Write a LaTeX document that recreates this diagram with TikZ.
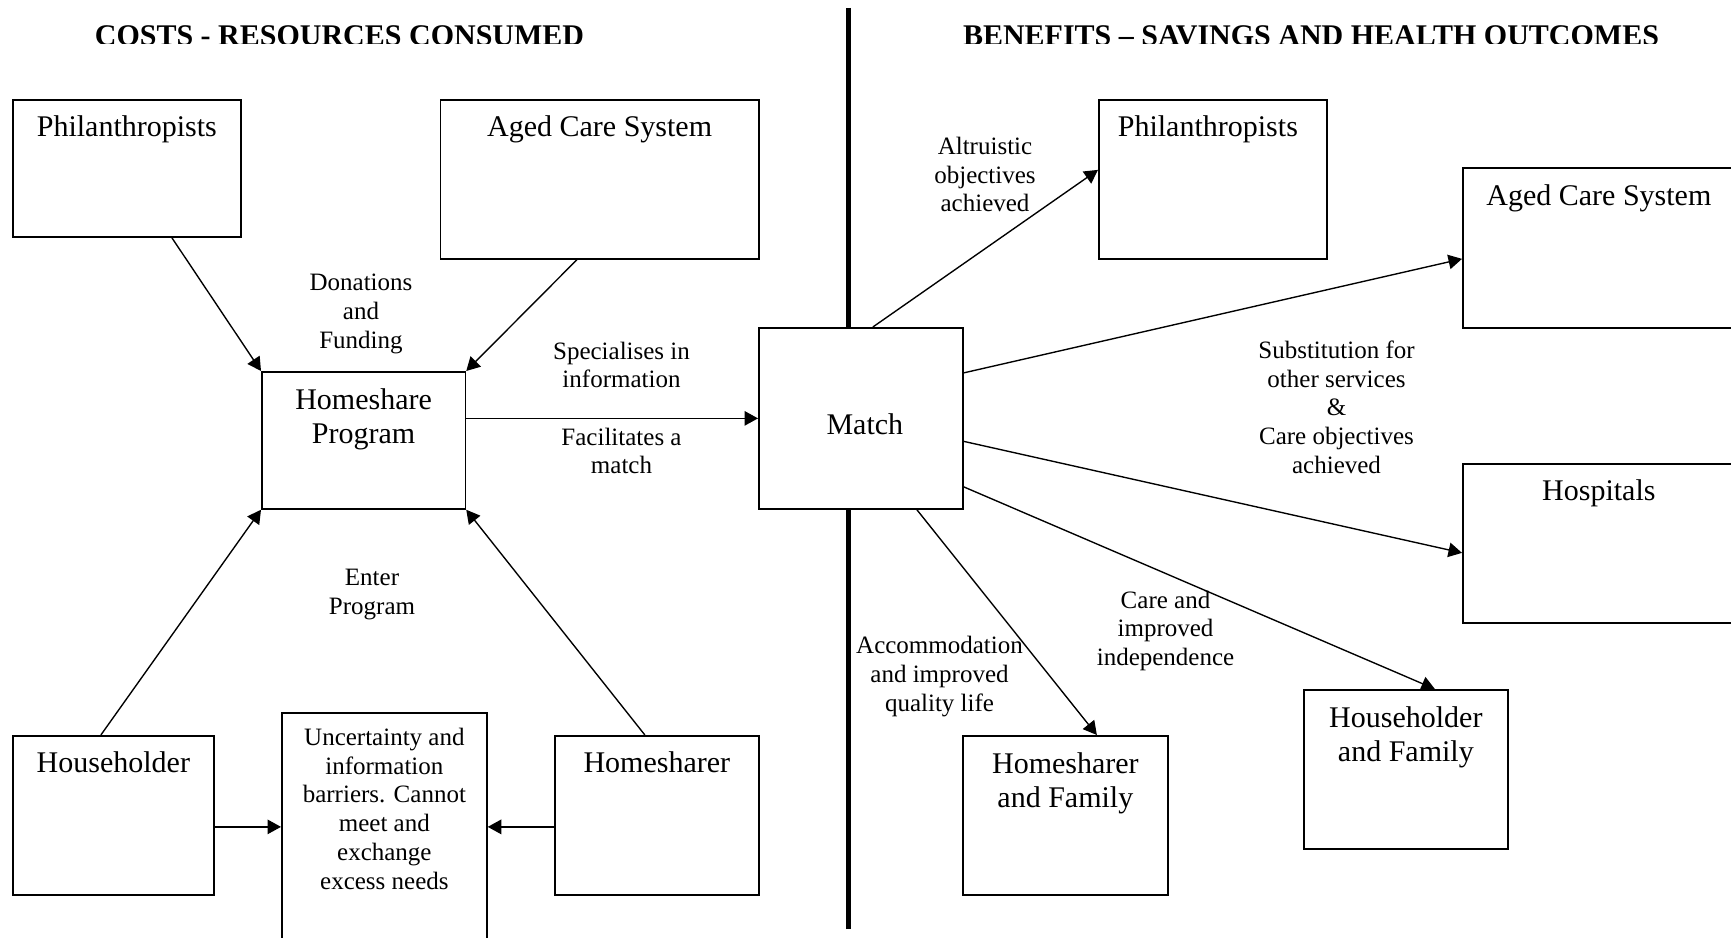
\documentclass[tikz,border=0pt]{standalone}
\usepackage{fontspec}
\setmainfont{Liberation Serif}
\usetikzlibrary{arrows.meta}

\begin{document}
\begin{tikzpicture}[x=0.4pt, y=-0.4pt,
    box/.style={draw, line width=0.7pt, anchor=north west, inner sep=0pt},
    title/.style={anchor=base, align=center, font=\fontsize{12}{13.4}\selectfont},
    lbl/.style={anchor=base, align=center, font=\fontsize{10}{11.5}\selectfont},
    head/.style={anchor=base, font=\fontsize{12}{14}\selectfont\bfseries},
    flow/.style={->, line width=0.55pt},
    divider/.style={line width=2.3pt},
    >={Triangle[length=5.4pt,width=5.8pt]}]
    \useasboundingbox (0,0) rectangle (1731,938);
    \begin{scope}
      \clip (0,0) rectangle (1731,44);
      \node[head] (costs) at (339.5,45.5) {COSTS - RESOURCES CONSUMED};
      \node[head] (benefits) at (1311,45.5) {BENEFITS – SAVINGS AND HEALTH OUTCOMES};
    \end{scope}
    \node[box, minimum width=91.2pt, minimum height=54.8pt] (phil1) at (12,99) {};
    \node[box, minimum width=127.4pt, minimum height=63.6pt] (aged1) at (439.5,99) {};
    \node[box, minimum width=81.4pt, minimum height=54.8pt] (prog) at (261,371) {};
    \node[box, minimum width=81.6pt, minimum height=72.4pt] (match) at (758,327) {};
    \node[box, minimum width=80.4pt, minimum height=63.6pt] (holder1) at (12,735) {};
    \node[box, minimum width=81.6pt, minimum height=63.6pt] (sharer1) at (554,735) {};
    \node[box, minimum width=82pt, minimum height=99.2pt] (barrier) at (281,712) {};
    \node[box, minimum width=91.2pt, minimum height=63.6pt] (phil2) at (1098,99) {};
    \node[box, minimum width=108.8pt, minimum height=64pt] (aged2) at (1462,167) {};
    \node[box, minimum width=108.8pt, minimum height=63.6pt] (hosp) at (1462,463) {};
    \node[box, minimum width=82pt, minimum height=63.6pt] (sharer2) at (962,735) {};
    \node[box, minimum width=81.6pt, minimum height=63.6pt] (holder2) at (1303,689) {};
    \node[title] (phil1t) at ([yshift=-15.2pt]phil1.north) {Philanthropists};
    \node[title] (aged1t) at ([yshift=-15.2pt]aged1.north) {Aged Care System};
    \node[title] (progt) at ([yshift=-29pt]prog.north) {Homeshare\\Program};
    \node[title] (matcht) at ([xshift=1.6pt,yshift=-42.8pt]match.north) {Match};
    \node[title] (holder1t) at ([yshift=-14.8pt]holder1.north) {Householder};
    \node[title] (sharer1t) at ([yshift=-14.8pt]sharer1.north) {Homesharer};
    \node[title] (phil2t) at ([xshift=-2pt,yshift=-15.2pt]phil2.north) {Philanthropists};
    \node[title] (aged2t) at ([yshift=-15.6pt]aged2.north) {Aged Care System};
    \node[title] (hospt) at ([yshift=-15.1pt]hosp.north) {Hospitals};
    \node[title] (sharer2t) at ([yshift=-28.8pt]sharer2.north) {Homesharer\\and Family};
    \node[title] (holder2t) at ([yshift=-28.9pt]holder2.north) {Householder\\and Family};
    \node[lbl] (barriert) at ([yshift=-70.8pt]barrier.north) {Uncertainty and\\information\\barriers. Cannot\\meet and\\exchange\\excess needs};
    \node[lbl] (donate) at (361,348.5) {Donations\\and\\Funding};
    \node[lbl] (spec) at (621.5,388) {Specialises in\\information};
    \node[lbl] (facil) at (621.5,474) {Facilitates a\\match};
    \node[lbl] (enter) at (372,614.5) {Enter\\Program};
    \node[lbl] (altru) at (985,212) {Altruistic\\objectives\\achieved};
    \node[lbl] (subst) at (1336.5,473.5) {Substitution for\\other services\\\&\\Care objectives\\achieved};
    \node[lbl] (care) at (1165.5,665.5) {Care and\\improved\\independence};
    \node[lbl] (accom) at (939.5,711) {Accommodation\\and improved\\quality life};
    \coordinate (divtop) at (848.5,8);
    \coordinate (divbot) at (848.5,929);
    \draw[divider] (divtop) -- (divtop |- match.north);
    \draw[divider] (divbot) -- (divbot |- match.south);
    \coordinate (hl) at ([yshift=-4.6pt]holder1.east);
    \coordinate (sl) at ([yshift=-4.6pt]sharer1.west);
    \draw[flow] ([xshift=18pt]phil1.south) -- (prog.north west);
    \draw[flow] ([xshift=-9.1pt]aged1.south) -- (prog.north east);
    \draw[flow] (prog.east |- match.west) -- (match.west);
    \draw[flow] ([xshift=-5pt]holder1.north) -- (prog.south west);
    \draw[flow] ([xshift=-4.8pt]sharer1.north) -- (prog.south east);
    \draw[flow] (hl) -- (hl -| barrier.west);
    \draw[flow] (sl) -- (sl -| barrier.east);
    \draw[flow] ([xshift=4.8pt]match.north) -- ([yshift=3.8pt]phil2.west);
    \draw[flow] ([yshift=18.2pt]match.east) -- ([yshift=-4.4pt]aged2.west);
    \draw[flow] ([yshift=-9.2pt]match.east) -- ([yshift=-3.8pt]hosp.west);
    \draw[flow] ([yshift=-27.4pt]match.east) -- ([xshift=11.6pt]holder2.north);
    \draw[flow] ([xshift=22.4pt]match.south) -- ([xshift=12.6pt]sharer2.north);
\end{tikzpicture}
\end{document}
